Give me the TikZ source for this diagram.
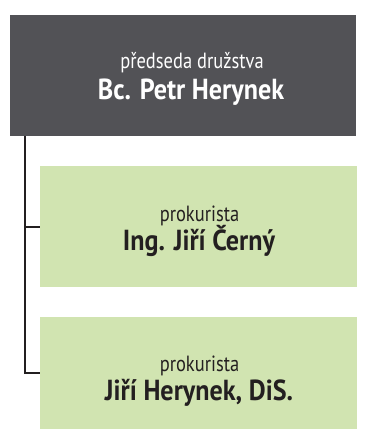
\documentclass[tikz,border=0pt]{standalone}
\usepackage{fontspec}
\setmainfont{PT Sans}
\newfontfamily\rolefont{PT Sans}[FakeStretch=0.84]
\newfontfamily\namefont{PT Sans}[FakeStretch=0.9]
\usetikzlibrary{positioning}
\definecolor{boardgray}{HTML}{525256}
\definecolor{prokgreen}{HTML}{D1E4B1}
\definecolor{inkdark}{HTML}{231F20}
\tikzset{
    orgbox/.style={draw=none, inner sep=0pt, minimum width=317pt, minimum height=121pt},
    chairbox/.style={orgbox, fill=boardgray, minimum width=346pt},
    prokbox/.style={orgbox, fill=prokgreen},
    roletext/.style={anchor=base, inner sep=0pt, font=\rolefont\fontsize{22}{24}\selectfont},
    nametext/.style={anchor=base, inner sep=0pt, font=\namefont\fontsize{29}{32}\selectfont\bfseries},
    conn/.style={draw=inkdark, line width=2pt},
}
\begin{document}
\begin{tikzpicture}[x=1pt,y=1pt]
\useasboundingbox (0,0) rectangle (366,-430);

% board
\node[chairbox] (chair) at (183,-75.5) {};
\node[roletext, white] (chairrole) at (192,-69) {předseda družstva};
\node[nametext, white] (chairname) at (191,-100) {Bc. Petr Herynek};

% procurators
\node[prokbox] (prok1) at (198.5,-226.5) {};
\node[roletext, inkdark] (prok1role) at (199.5,-221) {prokurista};
\node[nametext, inkdark] (prok1name) at (199,-250) {Ing. Jiří Černý};

\node[prokbox, minimum height=112pt] (prok2) at (198.5,-373) {};
\node[roletext, inkdark] (prok2role) at (199.5,-371) {prokurista};
\node[nametext, inkdark] (prok2name) at (199,-400) {Jiří Herynek, DiS.};

% connectors
\coordinate (trunk) at (chair.south west -| 25,0);
\draw[conn] (trunk) |- (prok2.west);
\draw[conn] (trunk |- prok1.west) -- (prok1.west);
\end{tikzpicture}
\end{document}
